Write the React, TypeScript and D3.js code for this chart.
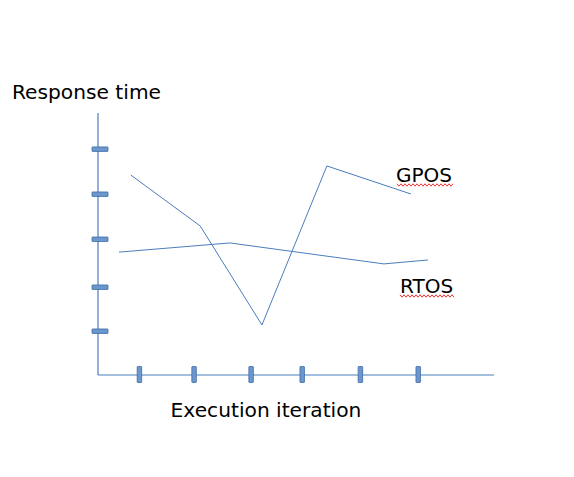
import React from "react";
import * as d3 from "d3";

const gposX = [8.3, 25.8, 41.4, 57.8, 79.0];
const gposY = [76.3, 56.9, 19.1, 79.8, 69.1];
const rtosX = [5.3, 33.3, 72.2, 83.3];
const rtosY = [46.9, 50.4, 42.4, 43.9];
const xTicks = [10.4, 24.2, 38.6, 51.5, 66.2, 80.8];
const yTicks = [86.3, 69.1, 51.9, 33.6, 16.8];
const seriesLabels = ["GPOS", "RTOS"];

const W = 574, H = 477;
const x = d3.scaleLinear().domain([0, 100]).range([98, 494]);
const y = d3.scaleLinear().domain([0, 100]).range([375, 113]);
const line = d3.line<[number, number]>().x(d => x(d[0])).y(d => y(d[1]));

function squiggle(x0: number, x1: number, yy: number) {
  const pts: [number, number][] = [];
  let up = true;
  for (let xx = x0; xx <= x1; xx += 2) {
    pts.push([xx, up ? yy - 1.2 : yy + 1.2]);
    up = !up;
  }
  return d3.line()(pts) || "";
}

export default function App() {
  const font = "DejaVu Sans, sans-serif";
  const g = gposX.map((v, i) => [v, gposY[i]] as [number, number]);
  const r = rtosX.map((v, i) => [v, rtosY[i]] as [number, number]);
  return (
    <svg width={W} height={H} style={{ position: "absolute", left: 0, top: 0 }}>
      <rect width={W} height={H} fill="#fff" />
      <line x1={x(0)} x2={x(0)} y1={y(100)} y2={y(0)} stroke="#4a7ebb" strokeWidth={1.2} />
      <line x1={x(0)} x2={x(100)} y1={y(0)} y2={y(0)} stroke="#4a7ebb" strokeWidth={1.2} />
      {yTicks.map((t, i) => (
        <rect key={"y" + i} x={x(0) - 6} y={y(t) - 2} width={16} height={4.5}
          fill="#6b97cc" stroke="#3f6ca8" strokeWidth={0.8} rx={0.5} />
      ))}
      {xTicks.map((t, i) => (
        <rect key={"x" + i} x={x(t) - 2} y={y(0) - 8.5} width={4.5} height={16}
          fill="#6b97cc" stroke="#3f6ca8" strokeWidth={0.8} rx={0.5} />
      ))}
      <path d={line(g) || ""} fill="none" stroke="#4a7ebb" strokeWidth={1} />
      <path d={line(r) || ""} fill="none" stroke="#4a7ebb" strokeWidth={1} />
      <text x={12} y={99} fontFamily={font} fontSize={20.2} fill="#000">Response time</text>
      <text x={266} y={417} fontFamily={font} fontSize={20.2} fill="#000" textAnchor="middle">Execution iteration</text>
      <text x={396} y={182} fontFamily={font} fontSize={20} fill="#000">{seriesLabels[0]}</text>
      <path d={squiggle(397, 453, 185)} fill="none" stroke="#e00" strokeWidth={0.8} />
      <text x={400} y={293} fontFamily={font} fontSize={20} fill="#000">{seriesLabels[1]}</text>
      <path d={squiggle(400, 455, 296)} fill="none" stroke="#e00" strokeWidth={0.8} />
    </svg>
  );
}
